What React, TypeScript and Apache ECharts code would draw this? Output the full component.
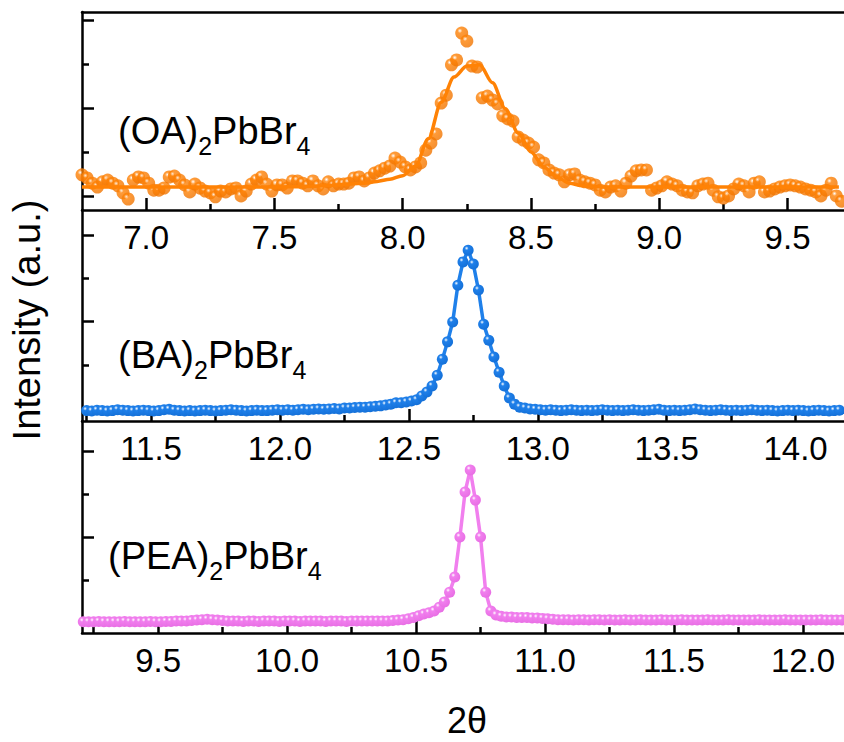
import React, { useEffect, useRef } from "react";
import * as echarts from "echarts";

// ---- (OA)2PbBr4 : measured points (2θ scan grid) and fitted curve ----
const OA_START = 6.75;
const OA_STEP = 0.02;
const oaPoints = [
  0.80, 0.73, 0.61, 0.52, 0.64, 0.68, 0.61, 0.55, 0.39, 0.25,
  0.68, 0.75, 0.73, 0.61, 0.45, 0.45, 0.50, 0.75, 0.77, 0.68,
  0.57, 0.41, 0.59, 0.50, 0.43, 0.39, 0.30, 0.43, 0.41, 0.48,
  0.50, 0.32, 0.43, 0.59, 0.68, 0.75, 0.59, 0.43, 0.57, 0.57,
  0.50, 0.66, 0.66, 0.61, 0.55, 0.66, 0.55, 0.48, 0.64, 0.55,
  0.59, 0.59, 0.61, 0.73, 0.75, 0.66, 0.73, 0.84, 0.89, 0.95,
  1.00, 1.18, 1.09, 0.98, 0.91, 0.98, 1.07, 1.36, 1.52, 1.73,
  2.43, 2.61, 3.30, 3.41, 4.02, 3.84, 3.27, 3.25, 2.55, 2.59,
  2.50, 2.41, 2.14, 2.07, 2.02, 1.66, 1.59, 1.52, 1.43, 1.14,
  1.07, 0.91, 0.84, 0.80, 0.64, 0.80, 0.82, 0.68, 0.64, 0.61,
  0.57, 0.45, 0.41, 0.52, 0.55, 0.43, 0.61, 0.77, 0.89, 0.91,
  0.91, 0.45, 0.50, 0.55, 0.64, 0.59, 0.55, 0.45, 0.41, 0.39,
  0.55, 0.59, 0.61, 0.45, 0.30, 0.27, 0.32, 0.48, 0.59, 0.55,
  0.41, 0.61, 0.64, 0.41, 0.43, 0.48, 0.52, 0.55, 0.57, 0.55,
  0.52, 0.48, 0.45, 0.41, 0.32, 0.45, 0.61, 0.32, 0.20,
];
const OA_FIT_START = 6.75;
const OA_FIT_STEP = 0.05;
const oaFit = [
  0.52, 0.52, 0.52, 0.52, 0.52, 0.52, 0.52, 0.52, 0.52, 0.52,
  0.52, 0.52, 0.52, 0.52, 0.52, 0.52, 0.53, 0.53, 0.54, 0.55,
  0.57, 0.59, 0.61, 0.65, 0.70, 0.78, 1.00, 1.62, 2.45, 3.02,
  3.27, 3.30, 2.89, 2.30, 1.75, 1.32, 0.98, 0.75, 0.61, 0.55,
  0.53, 0.52, 0.52, 0.52, 0.52, 0.52, 0.52, 0.52, 0.52, 0.52,
  0.52, 0.52, 0.52, 0.52, 0.52, 0.52, 0.52, 0.52, 0.52, 0.52,
];

// ---- (BA)2PbBr4 ----
const BA_START = 11.25;
const BA_STEP = 0.02;
const baPoints = [
  0.24, 0.23, 0.25, 0.24, 0.23, 0.24, 0.26, 0.25, 0.24, 0.23,
  0.24, 0.25, 0.24, 0.23, 0.24, 0.26, 0.27, 0.25, 0.24, 0.23,
  0.24, 0.23, 0.24, 0.25, 0.24, 0.23, 0.24, 0.25, 0.26, 0.25,
  0.24, 0.23, 0.24, 0.25, 0.24, 0.24, 0.25, 0.26,
  0.25, 0.26, 0.25, 0.26, 0.27, 0.26, 0.27, 0.28, 0.27, 0.28, 0.29, 0.28,
  0.30, 0.30, 0.31, 0.32, 0.32, 0.33, 0.34, 0.35, 0.37, 0.39,
  0.42, 0.42, 0.44, 0.46, 0.49, 0.58, 0.67, 0.81, 1.06, 1.43,
  1.83, 2.29, 3.14, 3.68, 3.95, 3.63, 3.03, 2.24, 1.87, 1.48,
  1.13, 0.81, 0.53, 0.39, 0.32, 0.30, 0.28,
  0.27, 0.26, 0.25, 0.26, 0.25, 0.24, 0.25, 0.26, 0.25, 0.24,
  0.25, 0.24, 0.25, 0.26, 0.25, 0.24, 0.25, 0.24, 0.25, 0.26,
  0.25, 0.24, 0.25, 0.26, 0.27, 0.25, 0.24, 0.25, 0.24, 0.25,
  0.26, 0.28, 0.26, 0.25, 0.24, 0.25, 0.26, 0.25, 0.24, 0.25,
  0.24, 0.25, 0.26, 0.25, 0.24, 0.25, 0.24, 0.23, 0.24, 0.25,
  0.24, 0.25, 0.24, 0.23, 0.24, 0.25, 0.24, 0.23, 0.24, 0.25,
];

// ---- (PEA)2PbBr4 ----
const PEA_START = 9.21;
const PEA_STEP = 0.02;
const peaPoints = [
  0.26, 0.26, 0.26, 0.27, 0.26, 0.26, 0.26, 0.26, 0.27, 0.26,
  0.26, 0.26, 0.26, 0.27, 0.26, 0.26, 0.27, 0.27, 0.28, 0.28,
  0.28, 0.29, 0.30, 0.31,
  0.32, 0.31, 0.30, 0.29, 0.28, 0.28,
  0.28, 0.27, 0.28, 0.28, 0.27, 0.28, 0.28, 0.28, 0.27, 0.28,
  0.28, 0.28, 0.27, 0.28, 0.28, 0.28, 0.28, 0.27, 0.28, 0.28,
  0.28, 0.27, 0.28, 0.28, 0.28, 0.28, 0.28, 0.28, 0.28, 0.28,
  0.29, 0.30, 0.31, 0.33, 0.36,
  0.40, 0.44, 0.47, 0.51, 0.60, 0.72, 0.95, 1.30, 2.23, 3.28,
  3.79, 3.09, 2.23, 0.95, 0.51, 0.42, 0.39,
  0.37, 0.37, 0.36, 0.36, 0.36, 0.35, 0.35, 0.34, 0.33, 0.32,
  0.31, 0.31, 0.31, 0.30, 0.31, 0.31, 0.30, 0.31, 0.31, 0.30,
  0.31, 0.30, 0.30, 0.31, 0.30, 0.30, 0.31, 0.30, 0.30, 0.30,
  0.31, 0.30, 0.30, 0.30, 0.31, 0.30, 0.30, 0.30, 0.30, 0.31,
  0.30, 0.30, 0.30, 0.31, 0.30, 0.30, 0.30, 0.30, 0.30, 0.31,
  0.30, 0.30, 0.30, 0.30, 0.31, 0.30, 0.30, 0.30, 0.30, 0.30,
  0.30, 0.31, 0.30, 0.30, 0.30, 0.30,
];

// ---- axis ranges and tick positions ----
const oaRange = [6.75, 9.72];
const baRange = [11.232, 14.188];
const peaRange = [9.205, 12.159];
const oaMajorX = [7.0, 7.5, 8.0, 8.5, 9.0, 9.5];
const oaMinorX = [7.25, 7.75, 8.25, 8.75, 9.25];
const baMajorX = [11.5, 12.0, 12.5, 13.0, 13.5, 14.0];
const baMinorX = [11.25, 11.75, 12.25, 12.75, 13.25, 13.75];
const peaMajorX = [9.5, 10.0, 10.5, 11.0, 11.5, 12.0];
const peaMinorX = [9.25, 9.75, 10.25, 10.75, 11.25, 11.75];

const oaYMax = 4.5;
const baYMax = 4.88;
const peaYMax = 4.93;
const oaMajorY = [0.32, 2.32, 4.32];
const oaMinorY = [1.32, 3.32];
const baMajorY = [0.3, 2.3, 4.3];
const baMinorY = [1.3, 3.3];
const peaMajorY = [0.23, 2.23, 4.23];
const peaMinorY = [1.23, 3.23];

const ORANGE = "#FF8205";
const BLUE = "#1F80EA";
const PINK = "#F17FEE";

const FONT = 'Arial, "Liberation Sans", sans-serif';

const toPairs = (start: number, step: number, ys: number[]) =>
  ys.map((y, i) => [+(start + i * step).toFixed(3), y]);

const sphere = (base: string, shade: string) =>
  new echarts.graphic.RadialGradient(0.36, 0.32, 0.7, [
    { offset: 0, color: "#ffffff" },
    { offset: 0.26, color: base },
    { offset: 1, color: shade },
  ]);

const AXIS_LINE = { show: true, lineStyle: { color: "#000", width: 2.5 } };

function mainX(grid: number, range: number[], major: number[]) {
  return {
    type: "value",
    gridIndex: grid,
    position: "bottom",
    min: range[0],
    max: range[1],
    axisLine: AXIS_LINE,
    axisTick: {
      show: true,
      inside: true,
      length: 12,
      customValues: major,
      lineStyle: { color: "#000", width: 2.5 },
    },
    axisLabel: {
      show: true,
      customValues: major,
      formatter: (v: number) => v.toFixed(1),
      fontSize: 33,
      fontFamily: FONT,
      color: "#000",
      margin: 11,
    },
    splitLine: { show: false },
  };
}

function minorX(grid: number, range: number[], minor: number[]) {
  return {
    type: "value",
    gridIndex: grid,
    position: "bottom",
    min: range[0],
    max: range[1],
    axisLine: { show: false },
    axisTick: {
      show: true,
      inside: true,
      length: 6,
      customValues: minor,
      lineStyle: { color: "#000", width: 2.5 },
    },
    axisLabel: { show: false },
    splitLine: { show: false },
  };
}

function yAxisPair(grid: number, max: number, major: number[], minor: number[]) {
  return [
    {
      type: "value",
      gridIndex: grid,
      position: "left",
      min: 0,
      max,
      axisLine: AXIS_LINE,
      axisTick: {
        show: true,
        inside: true,
        length: 12,
        customValues: major,
        lineStyle: { color: "#000", width: 2.5 },
      },
      axisLabel: { show: false },
      splitLine: { show: false },
    },
    {
      type: "value",
      gridIndex: grid,
      position: "left",
      min: 0,
      max,
      axisLine: { show: false },
      axisTick: {
        show: true,
        inside: true,
        length: 7,
        customValues: minor,
        lineStyle: { color: "#000", width: 2.5 },
      },
      axisLabel: { show: false },
      splitLine: { show: false },
    },
  ];
}

function compoundLabel(x: number, y: number, prefix: string) {
  return {
    type: "text",
    x,
    y,
    z: 100,
    style: {
      text: `{m|${prefix}}{s|2}{m|PbBr}{s|4}`,
      fill: "#000",
      align: "left",
      verticalAlign: "middle",
      fontFamily: FONT,
      rich: {
        m: { fontSize: 38, lineHeight: 54, fontFamily: FONT, fill: "#000" },
        s: {
          fontSize: 25,
          lineHeight: 26,
          verticalAlign: "bottom",
          fontFamily: FONT,
          fill: "#000",
        },
      },
    },
  };
}

export default function App() {
  const ref = useRef<HTMLDivElement>(null);

  useEffect(() => {
    if (!ref.current) return;
    const chart = echarts.init(ref.current, undefined, { renderer: "svg" });

    const option = {
      animation: false,
      backgroundColor: "#ffffff",
      grid: [
        { left: 82, width: 762, top: 12, height: 198, outerBoundsMode: "none" },
        { left: 82, width: 762, top: 210, height: 211, outerBoundsMode: "none" },
        { left: 82, width: 762, top: 421, height: 212, outerBoundsMode: "none" },
      ],
      xAxis: [
        mainX(0, oaRange, oaMajorX),
        minorX(0, oaRange, oaMinorX),
        {
          type: "value",
          gridIndex: 0,
          position: "top",
          min: oaRange[0],
          max: oaRange[1],
          axisLine: AXIS_LINE,
          axisTick: { show: false },
          axisLabel: { show: false },
          splitLine: { show: false },
        },
        mainX(1, baRange, baMajorX),
        minorX(1, baRange, baMinorX),
        mainX(2, peaRange, peaMajorX),
        minorX(2, peaRange, peaMinorX),
      ],
      yAxis: [
        ...yAxisPair(0, oaYMax, oaMajorY, oaMinorY),
        ...yAxisPair(1, baYMax, baMajorY, baMinorY),
        ...yAxisPair(2, peaYMax, peaMajorY, peaMinorY),
      ],
      series: [
        {
          name: "(OA)2PbBr4",
          type: "scatter",
          xAxisIndex: 0,
          yAxisIndex: 0,
          data: toPairs(OA_START, OA_STEP, oaPoints),
          symbol: "circle",
          symbolSize: 13,
          itemStyle: { color: sphere(ORANGE, "#F07400") },
          z: 2,
        },
        {
          name: "(OA)2PbBr4 fit",
          type: "line",
          xAxisIndex: 0,
          yAxisIndex: 0,
          data: toPairs(OA_FIT_START, OA_FIT_STEP, oaFit),
          showSymbol: false,
          symbol: "none",
          smooth: 0.3,
          smoothMonotone: "x",
          lineStyle: { color: ORANGE, width: 3.5 },
          z: 3,
        },
        {
          name: "(BA)2PbBr4",
          type: "line",
          xAxisIndex: 3,
          yAxisIndex: 2,
          data: toPairs(BA_START, BA_STEP, baPoints),
          symbol: "circle",
          showSymbol: true,
          showAllSymbol: true,
          symbolSize: 11,
          lineStyle: { color: BLUE, width: 3.5 },
          itemStyle: { color: sphere(BLUE, "#1470D8") },
          z: 2,
        },
        {
          name: "(PEA)2PbBr4",
          type: "line",
          xAxisIndex: 5,
          yAxisIndex: 4,
          data: toPairs(PEA_START, PEA_STEP, peaPoints),
          symbol: "circle",
          showSymbol: true,
          showAllSymbol: true,
          symbolSize: 11,
          lineStyle: { color: PINK, width: 3.5 },
          itemStyle: { color: sphere(PINK, "#E86EE4") },
          z: 2,
        },
      ],
      graphic: [
        compoundLabel(118, 131, "(OA)"),
        compoundLabel(118, 355, "(BA)"),
        compoundLabel(108, 556, "(PEA)"),
        {
          type: "text",
          x: 27,
          y: 320,
          rotation: Math.PI / 2,
          style: {
            text: "Intensity (a.u.)",
            fill: "#000",
            fontSize: 38,
            fontFamily: FONT,
            align: "center",
            verticalAlign: "middle",
          },
        },
        {
          type: "text",
          x: 467,
          y: 720,
          style: {
            text: "2θ",
            fill: "#000",
            fontSize: 36,
            fontFamily: FONT,
            align: "center",
            verticalAlign: "middle",
          },
        },
      ],
    };

    chart.setOption(option as any);
    return () => chart.dispose();
  }, []);

  return (
    <div
      ref={ref}
      style={{
        position: "fixed",
        left: 0,
        top: 0,
        width: 844,
        height: 742,
        background: "#fff",
      }}
    />
  );
}
